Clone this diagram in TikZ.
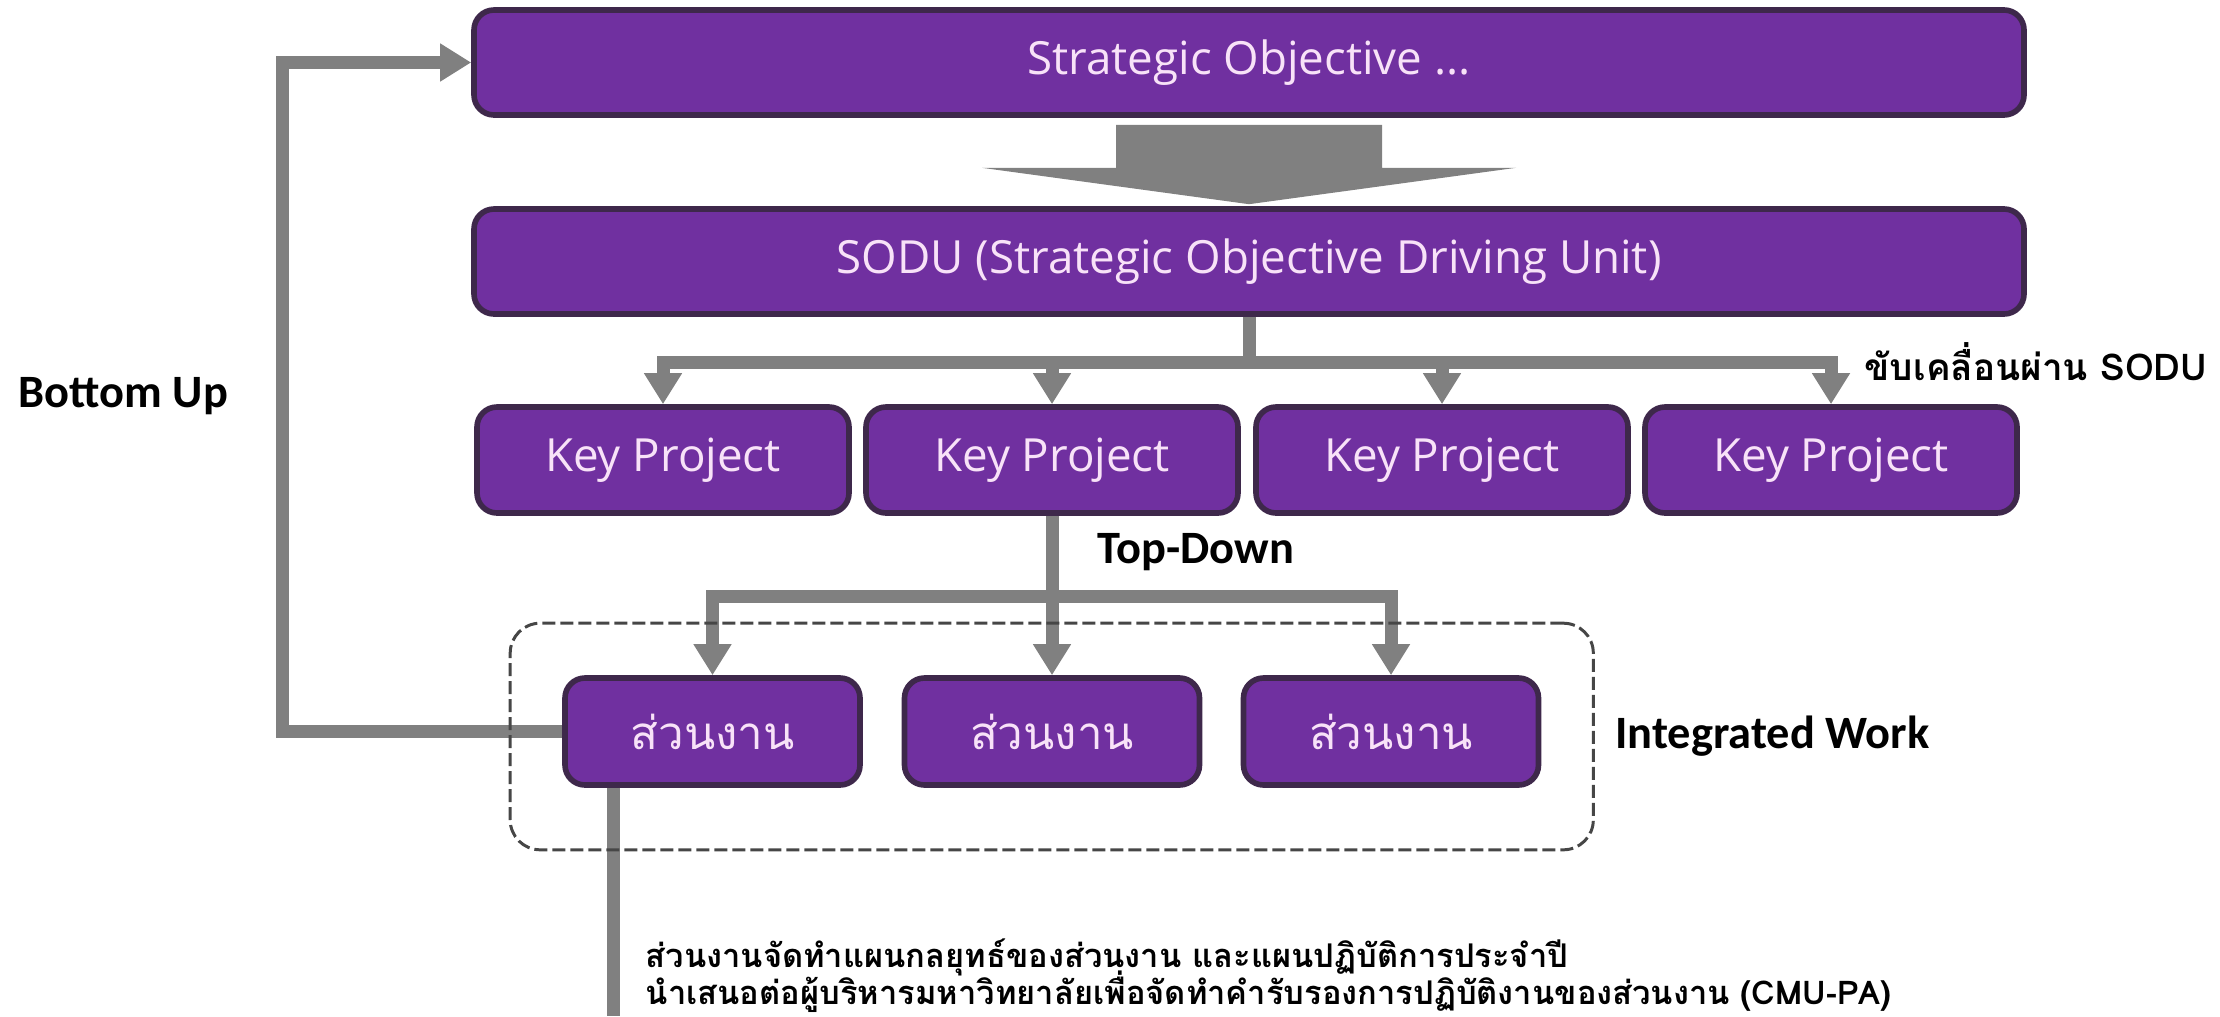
\documentclass[tikz,border=0pt]{standalone}
\usepackage{fontspec}
\setmainfont{Open Sans}
\newfontfamily\thaifont[Script=Thai]{Loma}
\newfontfamily\calfont{Carlito}
\usetikzlibrary{arrows.meta,positioning,fit,calc}

\begin{document}
\begin{tikzpicture}
  % Changing colours
  \definecolor{boxfill}{RGB}{112,48,160}
  \definecolor{boxline}{RGB}{62,40,75}
  \definecolor{boxtext}{RGB}{248,226,248}
  \definecolor{flowgray}{RGB}{128,128,128}
  \definecolor{groupline}{RGB}{70,70,70}
  \tikzset{
    box/.style={draw=boxline, fill=boxfill, line width=1.6pt, rounded corners=0.2cm,
      text=boxtext, font=\fontsize{13}{15}\selectfont, inner sep=0pt},
    unitbox/.style={box, minimum width=2.95cm, minimum height=1.07cm,
      font=\thaifont\fontsize{13}{15}\selectfont},
    conn/.style={draw=flowgray, line width=3.7pt},
    arrow/.style={conn, -{Triangle[width=0.36cm,length=0.31cm]}},
    tag/.style={font=\calfont\bfseries\fontsize{13.2}{15}\selectfont, inner sep=0pt},
    thaitag/.style={font=\thaifont\bfseries\fontsize{9.3}{10.5}\selectfont, inner sep=0pt,
      execute at begin node={\lineskiplimit=-100pt}}
  }
  \useasboundingbox (0,0) rectangle (22.2,-10.16);

  % Drawing box SO and SODU
  \node[box, minimum width=15.5cm, minimum height=1.05cm] (so) at (12.49,-0.625) {Strategic Objective ...};
  \node[box, minimum width=15.5cm, minimum height=1.05cm] (sodu) at (12.49,-2.615) {SODU (Strategic Objective Driving Unit)};

  % Drawing key projects
  \foreach \i/\x in {1/6.63,2/10.52,3/14.42,4/18.31}
    \node[box, minimum width=3.72cm, minimum height=1.06cm] (kp\i) at (\x,-4.60) {Key Project};

  % Drawing units
  \foreach \i/\x in {1/7.125,2/10.52,3/13.91}
    \node[unitbox] (su\i) at (\x,-7.315) {ส่วนงาน};

  % Drawing block arrow SO -> SODU
  \fill[flowgray] ($(so.south)+(-1.33,-0.07)$) -- ($(so.south)+(1.33,-0.07)$)
    -- ($(so.south)+(1.33,-0.5)$) -- ($(so.south)+(2.67,-0.5)$) -- ($(sodu.north)+(0,0.02)$)
    -- ($(so.south)+(-2.67,-0.5)$) -- ($(so.south)+(-1.33,-0.5)$) -- cycle;

  % Drawing fan SODU -> key projects
  \coordinate (fan) at (12.49,-3.62);
  \draw[conn] (sodu.south) -- (fan);
  \foreach \i in {1,...,4}
    \draw[arrow] (fan) -| (kp\i.north);

  % Drawing top-down
  \coordinate (td) at (10.52,-5.96);
  \draw[arrow] (kp2.south) -- (su2.north);
  \draw[arrow] (td) -| (su1.north);
  \draw[arrow] (td) -| (su3.north);

  % Drawing bottom-up
  \coordinate (bu) at (2.82,-7.315);
  \draw[arrow] (su1.west) -- (bu) |- (so.west);

  % Drawing line down
  \coordinate (down) at (6.13,-10.16);
  \draw[conn] (su1.south -| down) -- (down);

  % Drawing integrated group
  \node[draw=groupline, line width=0.85pt, dash pattern=on 0.13cm off 0.05cm,
    rounded corners=0.3cm, fit=(su1)(su3), inner xsep=0.52cm, inner ysep=0.57cm,
    yshift=-0.05cm] (grp) {};

  % Marking labels
  \node[tag, anchor=west] (bottomup) at (0.18,-3.96) {Bottom Up};
  \node[tag, anchor=west] (topdown) at (10.97,-5.52) {Top-Down};
  \node[tag, right=0.2cm of grp] (integ) {Integrated Work};
  \node[thaitag, font=\thaifont\bfseries\fontsize{10.5}{12}\selectfont, anchor=west] (drive)
    at (18.64,-3.62) {ขับเคลื่อนผ่าน SODU};
  \node[thaitag, anchor=west, align=left] (note) at (6.45,-9.76)
    {ส่วนงานจัดทำแผนกลยุทธ์ของส่วนงาน และแผนปฏิบัติการประจำปี\\
     นำเสนอต่อผู้บริหารมหาวิทยาลัยเพื่อจัดทำคำรับรองการปฏิบัติงานของส่วนงาน (CMU-PA)};
\end{tikzpicture}
\end{document}
